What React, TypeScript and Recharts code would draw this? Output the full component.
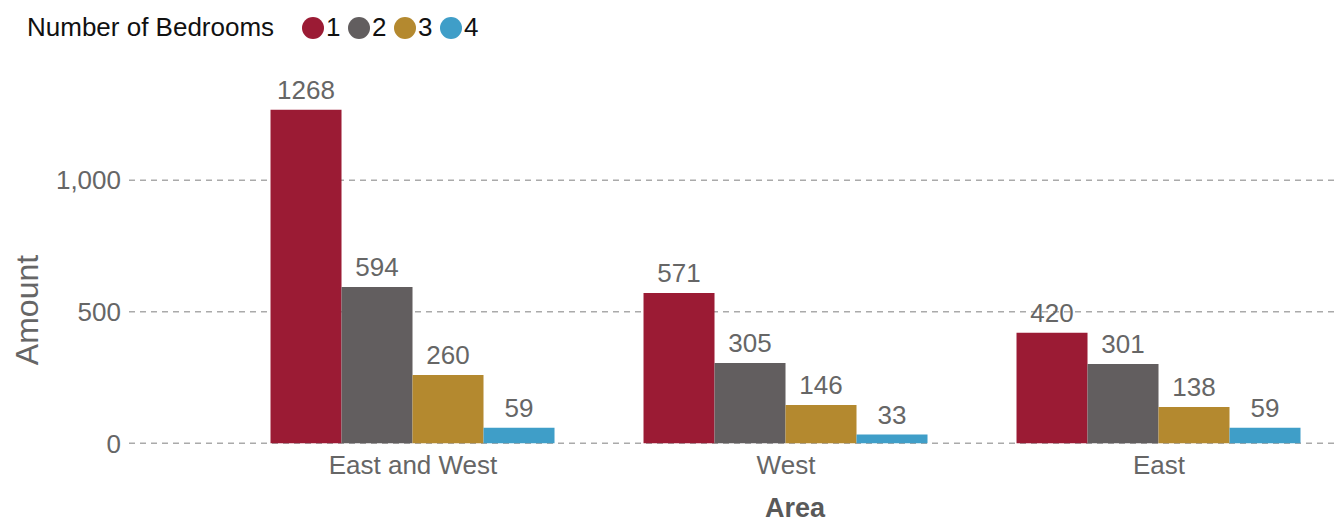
import React from 'react';
import { BarChart, Bar, XAxis, YAxis, CartesianGrid, LabelList } from 'recharts';

const categories = ['East and West', 'West', 'East'];
const bedrooms1 = [1268, 571, 420];
const bedrooms2 = [594, 305, 301];
const bedrooms3 = [260, 146, 138];
const bedrooms4 = [59, 33, 59];
const seriesNames = ['1', '2', '3', '4'];
const seriesKeys = ['b1', 'b2', 'b3', 'b4'];
const seriesColors = ['#9B1B34', '#625E5F', '#B4892F', '#3F9EC8'];
const yTicks = [0, 500, 1000];

const data = categories.map((area, i) => ({
  area,
  b1: bedrooms1[i],
  b2: bedrooms2[i],
  b3: bedrooms3[i],
  b4: bedrooms4[i],
}));

const FONT = '"Liberation Sans", Arial, sans-serif';

const YLabel = () => (
  <text x={38} y={310} transform="rotate(-90, 38, 310)" textAnchor="middle" fill="#666" fontSize={32} fontFamily={FONT}>
    Amount
  </text>
);

const XLabel = () => (
  <text x={795} y={517} textAnchor="middle" fill="#595959" fontSize={27} fontWeight="bold" fontFamily={FONT}>
    Area
  </text>
);

export default function App() {
  return (
    <div style={{ position: 'absolute', left: 0, top: 0, width: 1335, height: 523, overflow: 'hidden', background: '#fff' }}>
      <div style={{ position: 'absolute', left: 0, top: 0, zIndex: 2 }}>
        <svg width={520} height={56} style={{ display: 'block' }}>
          <text x={27} y={36} fontSize={26} fill="#111" fontFamily={FONT}>Number of Bedrooms</text>
          {seriesNames.map((n, i) => (
            <g key={n}>
              <circle cx={313 + 46 * i} cy={28} r={11} fill={seriesColors[i]} />
              <text x={313 + 46 * i + 13} y={36} fontSize={26} fill="#111" fontFamily={FONT}>{n}</text>
            </g>
          ))}
        </svg>
      </div>
      <BarChart
        width={1350}
        height={523}
        data={data}
        margin={{ top: 75, right: 4.5, bottom: 0, left: 0 }}
        barCategoryGap="11.8%"
        barGap={0}
        style={{ fontFamily: FONT }}
      >
        <CartesianGrid
          vertical={false}
          horizontalValues={yTicks}
          stroke="#aaa"
          strokeWidth={1.5}
          strokeDasharray="6 5"
        />
        <XAxis
          dataKey="area"
          axisLine={false}
          tickLine={false}
          height={79.7}
          tickMargin={6}
          padding={{ left: 97.5, right: 0 }}
          tick={{ fill: '#666', fontSize: 26 }}
          label={<XLabel />}
        />
        <YAxis
          width={129}
          domain={[0, 1400]}
          ticks={yTicks}
          axisLine={false}
          tickLine={false}
          tick={{ fill: '#666', fontSize: 26 }}
          tickFormatter={(v: number) => v.toLocaleString('en-US')}
          label={<YLabel />}
        />
        {seriesKeys.map((k, i) => (
          <Bar key={k} dataKey={k} name={seriesNames[i]} fill={seriesColors[i]} isAnimationActive={false}>
            <LabelList dataKey={k} position="top" offset={11} fill="#666" fontSize={26} fontFamily={FONT} />
          </Bar>
        ))}
      </BarChart>
    </div>
  );
}
